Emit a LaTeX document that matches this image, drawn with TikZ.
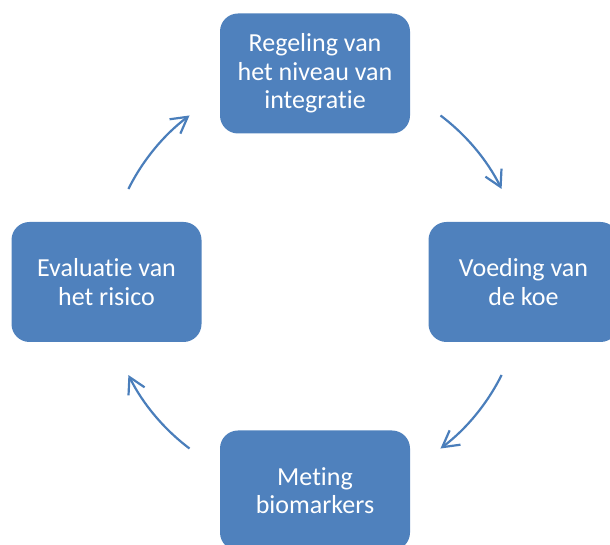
\documentclass[tikz,border=0pt]{standalone}
\usepackage{fontspec}
\setmainfont{Carlito}[RawFeature={-liga;-clig;-calt;-dlig;-rlig}]
\usetikzlibrary{arrows.meta}

\definecolor{boxblue}{HTML}{4F81BD}
\definecolor{arrowblue}{HTML}{4A7EBB}

\tikzset{
          stepbox/.style = {fill = boxblue, draw = none, rounded corners = 18pt,
                            minimum width = 190pt, minimum height = 120pt,
                            text = white, align = center, inner sep = 0pt,
                            font = \fontsize{26pt}{28.5pt}\selectfont},
          cyclearrow/.style = {draw = arrowblue, line width = 2.2pt,
                            -{Straight Barb[length=16pt,width=18pt]}}
        }

\begin{document}
\begin{tikzpicture}[x=1pt,y=1pt]
          \useasboundingbox (0,0) rectangle (610,545);
          \coordinate (c) at (315,263);

          \node[stepbox] (regeling)   at (315,471.5) {Regeling van\\het niveau van\\integratie};
          \node[stepbox] (voeding)    at (523.5,263) {Voeding van\\de koe};
          \node[stepbox] (meting)     at (315,54.5)  {Meting\\biomarkers};
          \node[stepbox] (evaluatie)  at (106.5,263) {Evaluatie van\\het risico};

          \foreach \a/\b in {53/26.5, -26.5/-53, 233/206.5, 153.5/127}{
            \draw[cyclearrow] ([shift={(\a:208.5)}]c) arc[start angle=\a, end angle=\b, radius=208.5];
          }
        \end{tikzpicture}
\end{document}
